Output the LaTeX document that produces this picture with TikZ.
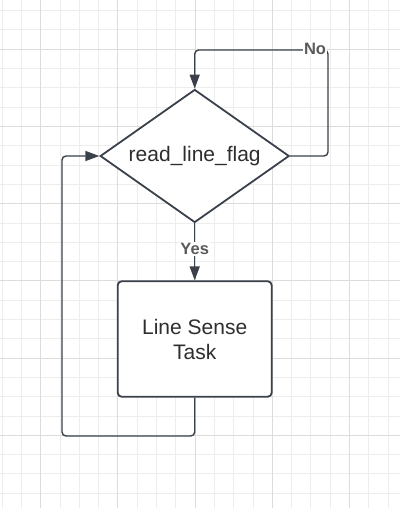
\documentclass[tikz,border=0pt]{standalone}
\usepackage{fontspec}
\setmainfont{Liberation Sans}
\usetikzlibrary{arrows.meta,shapes.geometric}
\definecolor{ln}{HTML}{3A414A}
\definecolor{gmin}{HTML}{EDEDED}
\definecolor{gmaj}{HTML}{DCDCDC}
\definecolor{lbl}{HTML}{5A5A5A}
\definecolor{txt}{HTML}{2E2E2E}
\tikzset{
  dec/.style={diamond, draw=ln, line width=1.8pt, fill=white, minimum width=189pt, minimum height=133pt, shape aspect=1.42, inner sep=0pt, text=txt, font=\fontsize{21}{25}\selectfont},
  taskbox/.style={rectangle, draw=ln, line width=1.8pt, fill=white, rounded corners=4pt, minimum width=154pt, minimum height=115.5pt, inner sep=0pt, align=center, text=txt, font=\fontsize{21}{25}\selectfont},
  conn/.style={draw=ln, line width=1.4pt, rounded corners=4pt, -{Triangle[length=14pt,width=10pt]}},
  lab/.style={fill=white, inner sep=1pt, text=lbl, font=\bfseries\fontsize{16.5}{18}\selectfont}
}
\begin{document}
\begin{tikzpicture}[x=1pt,y=-1pt]
\useasboundingbox (0,0) rectangle (400,508);
\fill[white] (0,0) rectangle (400,508);
% grid
\foreach \i in {-2,...,18}{
  \pgfmathsetmacro\xx{40.7+19.3*\i}
  \draw[gmin, line width=1pt] (\xx,0) -- (\xx,508);
}
\foreach \i in {-2,...,23}{
  \pgfmathsetmacro\yy{49.3+19.3*\i}
  \draw[gmin, line width=1pt] (0,\yy) -- (400,\yy);
}
\foreach \i in {0,...,4}{
  \pgfmathsetmacro\xx{40.7+77.2*\i}
  \draw[gmaj, line width=1pt] (\xx,0) -- (\xx,508);
}
\foreach \i in {0,...,5}{
  \pgfmathsetmacro\yy{49.3+77.2*\i}
  \draw[gmaj, line width=1pt] (0,\yy) -- (400,\yy);
}
% nodes
\node[dec] (d) at (194.7,156) {read\_line\_flag};
\node[taskbox] (r) at (194.7,339) {Line Sense\\Task};
\coordinate (nr) at (328,50);
\coordinate (lp) at (62,436);
% connectors
\draw[conn] (d.east) -| (nr) -| (d.north);
\draw[conn] (d.south) -- (r.north);
\draw[conn] (r.south) |- (lp) |- (d.west);
% labels
\node[lab] (no) at (315,49) {No};
\node[lab] (yes) at (194.7,249) {Yes};
\end{tikzpicture}
\end{document}
